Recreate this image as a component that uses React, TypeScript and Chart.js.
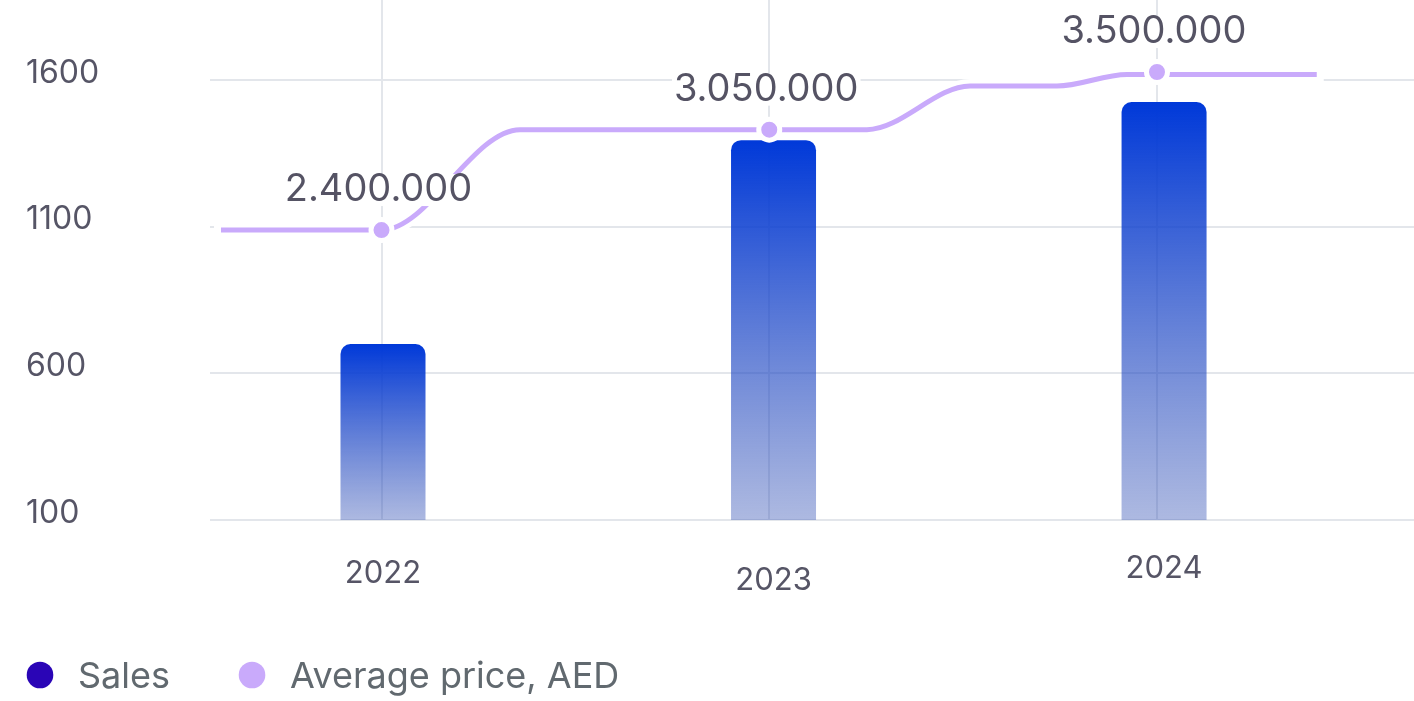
import React, { useEffect, useRef } from "react";
import { Chart, registerables } from "chart.js";

Chart.register(...registerables);

// ---- data ----
const years = ["2022", "2023", "2024"];
const yearPositions = [0, 1, 2];
const sales = [700, 1395, 1525];
const avgPrice = [2400000, 3050000, 3500000];
const priceLabels = ["2.400.000", "3.050.000", "3.500.000"];
// smoothed average-price path as drawn (x in year slots, y in AED)
const curveX = [-0.414, 0, 0.357, 1.252, 1.518, 1.742, 1.923, 2.412];
const curveY = [2400000, 2400000, 3050000, 3050000, 3385000, 3385000, 3480000, 3480000];
const yTicks = [100, 600, 1100, 1600];
const legendNames = ["Sales", "Average price, AED"];

// ---- styles ----
const GRID = "#e3e6eb";
const LINE = "#c9aafb";
const TICK = "#565566";
const LABEL = "#555364";
const LEGEND_TEXT = "#61696f";
const LEGEND_COLORS = ["#2a05b6", "#c9aafb"];
const X_LABEL_LINE_HEIGHTS = [108, 122, 98];

const barGradient = (ctx: any) => {
  const chart = ctx.chart;
  const ys = chart.scales && chart.scales.y;
  if (!chart.chartArea || !ys || ctx.type !== "data" || !ctx.parsed) return "rgba(0,57,217,0.8)";
  const top = ys.getPixelForValue(ctx.parsed.y);
  const bottom = ys.getPixelForValue(ys.min);
  if (!isFinite(top) || !isFinite(bottom) || top === bottom) return "rgba(0,57,217,0.8)";
  const g = chart.ctx.createLinearGradient(0, top, 0, bottom);
  g.addColorStop(0, "rgba(0,57,217,1)");
  g.addColorStop(1, "rgba(50,80,180,0.4)");
  return g;
};

const outlinePlugin = {
  id: "curveOutline",
  beforeDatasetDraw(chart: any, args: any) {
    if (args.index !== 1) return;
    const line = args.meta.dataset;
    if (!line) return;
    const c = chart.ctx;
    c.save();
    c.beginPath();
    line.path(c);
    c.lineWidth = 14;
    c.strokeStyle = "#ffffff";
    c.lineCap = "square";
    c.lineJoin = "round";
    c.stroke();
    c.restore();
  },
};

const valueLabelPlugin = {
  id: "valueLabels",
  afterDatasetsDraw(chart: any) {
    const meta = chart.getDatasetMeta(0);
    const c = chart.ctx;
    c.save();
    c.font = "38px Inter";
    c.textAlign = "center";
    c.textBaseline = "middle";
    meta.data.forEach((pt: any, i: number) => {
      const text = priceLabels[i];
      const x = pt.x - 3;
      const y = pt.y - 40;
      const w = c.measureText(text).width;
      c.fillStyle = "#ffffff";
      c.fillRect(x - w / 2 - 2, y - 16, w + 4, 32);
      c.fillStyle = LABEL;
      c.fillText(text, x, y);
    });
    c.restore();
  },
};

const legendPlugin = {
  id: "bottomLegend",
  afterDraw(chart: any) {
    const c = chart.ctx;
    c.save();
    c.font = "36px Inter";
    c.textAlign = "left";
    c.textBaseline = "alphabetic";
    let x = 40;
    const cy = 675;
    legendNames.forEach((name, i) => {
      c.fillStyle = LEGEND_COLORS[i];
      c.beginPath();
      c.arc(x, cy, 13.3, 0, Math.PI * 2);
      c.fill();
      c.fillStyle = LEGEND_TEXT;
      c.fillText(name, x + 38, 688);
      x += 38 + c.measureText(name).width + 82;
    });
    c.restore();
  },
};

export default function App() {
  const ref = useRef<HTMLCanvasElement>(null);

  useEffect(() => {
    const canvas = ref.current;
    if (!canvas) return;
    const setTicks = (vals: number[]) => (s: any) => {
      s.ticks = vals.map((v) => ({ value: v }));
    };
    const chart = new Chart(canvas, {
      type: "bar",
      data: {
        datasets: [
          {
            type: "line",
            label: legendNames[1],
            data: yearPositions.map((x, i) => ({ x, y: avgPrice[i] })),
            xAxisID: "x2",
            yAxisID: "y2",
            showLine: false,
            pointRadius: 10.5,
            pointHoverRadius: 10.5,
            pointBackgroundColor: LINE,
            pointBorderColor: "#ffffff",
            pointBorderWidth: 5,
            order: 1,
          } as any,
          {
            type: "line",
            label: "curve",
            data: curveX.map((x, i) => ({ x, y: curveY[i] })),
            xAxisID: "x2",
            yAxisID: "y2",
            borderColor: LINE,
            borderWidth: 5,
            borderCapStyle: "butt",
            pointRadius: 0,
            cubicInterpolationMode: "monotone",
            fill: false,
            order: 2,
          } as any,
          {
            type: "bar",
            label: legendNames[0],
            data: yearPositions.map((x, i) => ({ x, y: sales[i] })),
            xAxisID: "x",
            yAxisID: "y",
            grouped: false,
            backgroundColor: barGradient,
            maxBarThickness: 85,
            borderRadius: { topLeft: 10, topRight: 10, bottomLeft: 0, bottomRight: 0 },
            borderSkipped: "bottom",
            order: 3,
          } as any,
        ],
      },
      options: {
        animation: false,
        responsive: true,
        maintainAspectRatio: false,
        events: [],
        layout: { autoPadding: false, padding: { left: 26, right: 0, top: 0, bottom: 81 } },
        plugins: {
          legend: { display: false },
          tooltip: { enabled: false },
        },
        scales: {
          x: {
            type: "linear",
            position: "bottom",
            min: -0.443,
            max: 2.64,
            bounds: "data",
            offset: false,
            grid: { display: false, drawTicks: false, offset: false },
            border: { display: false },
            afterBuildTicks: setTicks(yearPositions),
            afterFit: (s: any) => {
              s.height = 100;
              s.paddingLeft = 0;
              s.paddingRight = 0;
            },
            ticks: {
              padding: 0,
              color: TICK,
              autoSkip: false,
              maxRotation: 0,
              font: (c: any) => ({
                family: "Inter",
                size: 31,
                lineHeight: (X_LABEL_LINE_HEIGHTS[c.index] || 100) + "px",
              }),
              callback: (v: any) => {
                const i = yearPositions.indexOf(Number(v));
                return i >= 0 ? years[i] : "";
              },
            },
          },
          x2: {
            type: "linear",
            position: "top",
            min: -0.4423,
            max: 2.6628,
            bounds: "data",
            offset: false,
            grid: { color: GRID, lineWidth: 2, drawTicks: false, offset: false },
            border: { display: false },
            ticks: { display: false },
            afterBuildTicks: setTicks(yearPositions),
            afterFit: (s: any) => {
              s.height = 0;
              s.paddingLeft = 0;
              s.paddingRight = 0;
            },
          },
          y: {
            type: "linear",
            position: "left",
            min: 100,
            max: 1872.7,
            bounds: "data",
            grid: { color: GRID, lineWidth: 2, drawTicks: false },
            border: { display: false },
            afterBuildTicks: setTicks(yTicks),
            afterFit: (s: any) => {
              s.width = 184;
              s.paddingTop = 0;
              s.paddingBottom = 0;
            },
            ticks: {
              crossAlign: "far",
              padding: 0,
              labelOffset: -7,
              color: TICK,
              font: { family: "Inter", size: 32 },
              callback: (v: any) => String(v),
            },
          },
          y2: {
            type: "logarithmic",
            display: false,
            min: 1201200,
            max: 4156500,
            bounds: "data",
          },
        },
      } as any,
      plugins: [outlinePlugin, valueLabelPlugin, legendPlugin],
    });
    return () => chart.destroy();
  }, []);

  return (
    <div style={{ position: "fixed", left: 0, top: 0, width: 1414, height: 701, background: "#fff" }}>
      <canvas ref={ref} />
    </div>
  );
}
